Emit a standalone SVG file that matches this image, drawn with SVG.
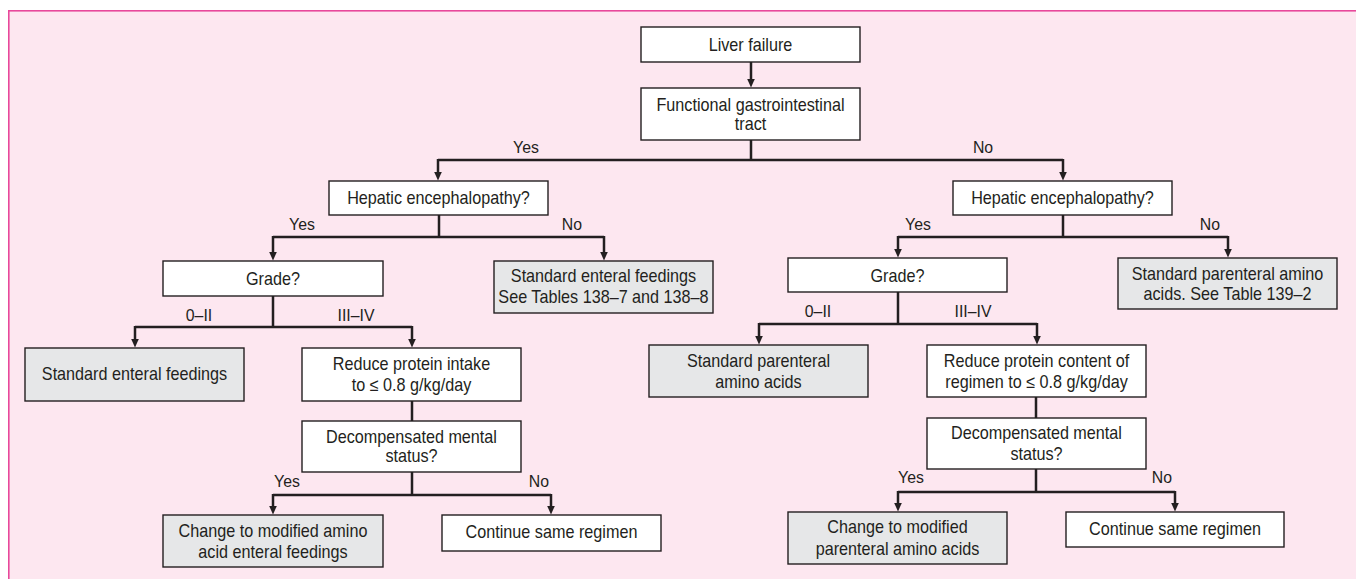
<svg xmlns="http://www.w3.org/2000/svg" width="1356" height="579" viewBox="0 0 1356 579">
  <style>
    .frame { fill: #fde7f0; stroke: #e8489b; stroke-width: 1.6; }
    .box { fill: #ffffff; stroke: #231f20; stroke-width: 1.4; }
    .end { fill: #e6e7e8; stroke: #231f20; stroke-width: 1.4; }
    .t, .lbl { font-family: "Liberation Sans", Arial, sans-serif; fill: #231f20; text-anchor: middle;
      transform-box: fill-box; transform-origin: center; transform: scaleX(0.91); }
    .t { font-size: 17.8px; }
    .lbl { font-size: 17.4px; }
    .ln { fill: none; stroke: #231f20; stroke-width: 2.5; }
    .arr { fill: none; stroke: #231f20; stroke-width: 2.5; marker-end: url(#ah); }
  </style>
  <defs>
    <!-- arrowhead: base sits on the line end, tip 8.5px further on -->
    <marker id="ah" markerUnits="userSpaceOnUse" markerWidth="10" markerHeight="10" viewBox="-1 -5 10 10" refX="0" refY="0" orient="auto">
      <path d="M 0 -3.8 L 8.5 0 L 0 3.8 Z" fill="#231f20"/>
    </marker>
  </defs>

  <!-- panel -->
  <rect class="frame" x="8.8" y="10.8" width="1400" height="620"/>

  <!-- connectors -->
  <g id="connectors">
    <path class="arr" d="M751 62 V79"/>
    <path class="ln" d="M751 140 V160 M438 160 H1063"/>
    <path class="arr" d="M438 159 V172"/>
    <path class="arr" d="M1063 159 V172"/>

    <path class="ln" d="M439 215 V237 M273 237 H604"/>
    <path class="arr" d="M273 236 V252"/>
    <path class="arr" d="M604 236 V252"/>

    <path class="ln" d="M273 296 V327 M135 327 H412"/>
    <path class="arr" d="M135 326 V339"/>
    <path class="arr" d="M412 326 V339"/>

    <path class="ln" d="M412 401 V421 M412 472 V495 M273 495 H551"/>
    <path class="arr" d="M273 494 V506"/>
    <path class="arr" d="M551 494 V506"/>

    <path class="ln" d="M1063 215 V237 M898 237 H1228"/>
    <path class="arr" d="M898 236 V249"/>
    <path class="arr" d="M1228 236 V249"/>

    <path class="ln" d="M898 292 V324 M759 324 H1037"/>
    <path class="arr" d="M759 323 V336"/>
    <path class="arr" d="M1037 323 V336"/>

    <path class="ln" d="M1036 397 V418 M1036 469 V492 M898 492 H1175"/>
    <path class="arr" d="M898 491 V503"/>
    <path class="arr" d="M1175 491 V503"/>
  </g>

  <!-- branch labels -->
  <g id="labels">
    <text class="lbl" x="526" y="153">Yes</text>
    <text class="lbl" x="983" y="153">No</text>
    <text class="lbl" x="302" y="230">Yes</text>
    <text class="lbl" x="572" y="230">No</text>
    <text class="lbl" x="199" y="321">0–II</text>
    <text class="lbl" x="356" y="321">III–IV</text>
    <text class="lbl" x="287" y="487">Yes</text>
    <text class="lbl" x="539" y="487">No</text>
    <text class="lbl" x="918" y="230">Yes</text>
    <text class="lbl" x="1210" y="230">No</text>
    <text class="lbl" x="818" y="317">0–II</text>
    <text class="lbl" x="973" y="317">III–IV</text>
    <text class="lbl" x="911" y="483">Yes</text>
    <text class="lbl" x="1162" y="483">No</text>
  </g>

  <g id="liver-failure">
    <rect class="box" x="641" y="27" width="219" height="35"/>
    <text class="t" x="750.5" y="51">Liver failure</text>
  </g>
  <g id="functional-gi">
    <rect class="box" x="641" y="88" width="219" height="52"/>
    <text class="t" x="750.5" y="111">Functional gastrointestinal</text>
    <text class="t" x="750.5" y="130">tract</text>
  </g>

  <!-- enteral branch -->
  <g id="he-enteral">
    <rect class="box" x="329" y="181" width="219" height="34"/>
    <text class="t" x="438.5" y="204">Hepatic encephalopathy?</text>
  </g>
  <g id="std-enteral-tables">
    <rect class="end" x="494" y="261" width="219" height="52"/>
    <text class="t" x="603.5" y="282">Standard enteral feedings</text>
    <text class="t" x="603.5" y="303">See Tables 138–7 and 138–8</text>
  </g>
  <g id="grade-enteral">
    <rect class="box" x="163" y="261" width="220" height="35"/>
    <text class="t" x="273" y="285">Grade?</text>
  </g>
  <g id="std-enteral">
    <rect class="end" x="25" y="348" width="219" height="53"/>
    <text class="t" x="134.5" y="380">Standard enteral feedings</text>
  </g>
  <g id="reduce-intake">
    <rect class="box" x="302" y="348" width="219" height="53"/>
    <text class="t" x="411.5" y="370">Reduce protein intake</text>
    <text class="t" x="411.5" y="391">to ≤ 0.8 g/kg/day</text>
  </g>
  <g id="mental-enteral">
    <rect class="box" x="302" y="421" width="219" height="51"/>
    <text class="t" x="411.5" y="443">Decompensated mental</text>
    <text class="t" x="411.5" y="462">status?</text>
  </g>
  <g id="modified-enteral">
    <rect class="end" x="163" y="515" width="220" height="52"/>
    <text class="t" x="273" y="537">Change to modified amino</text>
    <text class="t" x="273" y="558">acid enteral feedings</text>
  </g>
  <g id="continue-enteral">
    <rect class="box" x="442" y="515" width="219" height="36"/>
    <text class="t" x="551.5" y="538">Continue same regimen</text>
  </g>

  <!-- parenteral branch -->
  <g id="he-parenteral">
    <rect class="box" x="953" y="181" width="219" height="34"/>
    <text class="t" x="1062.5" y="204">Hepatic encephalopathy?</text>
  </g>
  <g id="std-parenteral-table">
    <rect class="end" x="1118" y="258" width="219" height="51"/>
    <text class="t" x="1227.5" y="280">Standard parenteral amino</text>
    <text class="t" x="1227.5" y="300">acids. See Table 139–2</text>
  </g>
  <g id="grade-parenteral">
    <rect class="box" x="788" y="258" width="219" height="34"/>
    <text class="t" x="897.5" y="282">Grade?</text>
  </g>
  <g id="std-parenteral">
    <rect class="end" x="649" y="345" width="219" height="52"/>
    <text class="t" x="758.5" y="367">Standard parenteral</text>
    <text class="t" x="758.5" y="388">amino acids</text>
  </g>
  <g id="reduce-content">
    <rect class="box" x="927" y="345" width="219" height="52"/>
    <text class="t" x="1036.5" y="367">Reduce protein content of</text>
    <text class="t" x="1036.5" y="388">regimen to ≤ 0.8 g/kg/day</text>
  </g>
  <g id="mental-parenteral">
    <rect class="box" x="927" y="418" width="219" height="51"/>
    <text class="t" x="1036.5" y="439">Decompensated mental</text>
    <text class="t" x="1036.5" y="460">status?</text>
  </g>
  <g id="modified-parenteral">
    <rect class="end" x="788" y="512" width="219" height="52"/>
    <text class="t" x="897.5" y="533">Change to modified</text>
    <text class="t" x="897.5" y="555">parenteral amino acids</text>
  </g>
  <g id="continue-parenteral">
    <rect class="box" x="1066" y="512" width="218" height="35"/>
    <text class="t" x="1175" y="535">Continue same regimen</text>
  </g>
</svg>
